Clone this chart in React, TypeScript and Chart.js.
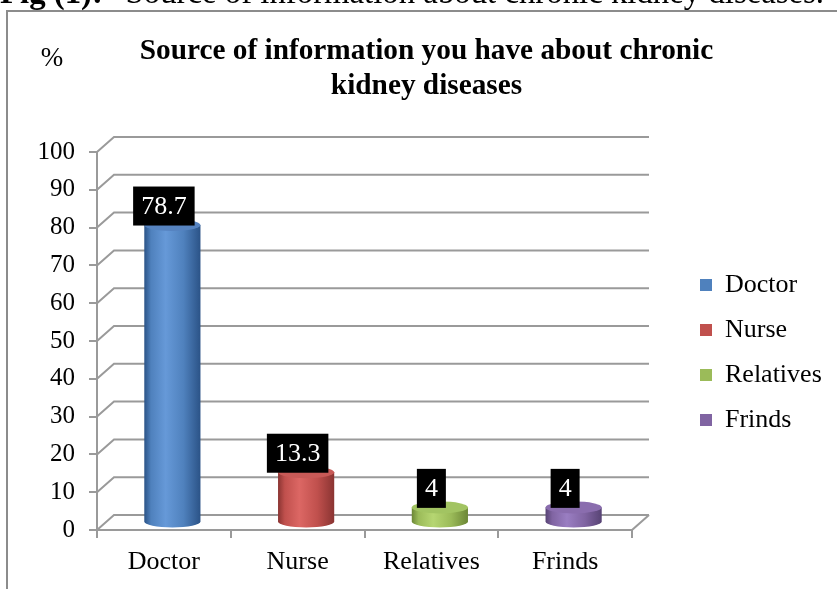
import React, { useEffect, useRef } from 'react';
import { Chart, registerables } from 'chart.js';

Chart.register(...registerables);

const FONT = '"Liberation Serif", "Times New Roman", serif';

// ---- data ----
const categories = ['Doctor', 'Nurse', 'Relatives', 'Frinds'];
const percentValues = [78.7, 13.3, 4, 4];
const valueLabels = ['78.7', '13.3', '4', '4'];
const seriesColors = ['#4F81BD', '#C0504D', '#9BBB59', '#8064A2'];
const edgeColors = ['#2b5387', '#8a3432', '#6c8736', '#574374'];
const lightColors = ['#6699d8', '#dc6764', '#b6d672', '#9a7ec2'];
const topColors = ['#5683c0', '#c85a57', '#a2c462', '#8a6dae'];
const yMin = 0;
const yMax = 100;
const yStep = 10;
const titleLines = ['Source of information you have about chronic', 'kidney diseases'];
const captionBold = 'Fig (1):';
const captionText = 'Source of information about chronic kidney diseases.';
const yUnit = '%';

const GRID = '#9a9a9a';
const DX = 17;
const DY = 15;

const decor = {
  id: 'decor',
  beforeDraw(chart: any) {
    const { ctx } = chart;
    ctx.save();
    ctx.strokeStyle = '#8c8c8c';
    ctx.lineWidth = 2;
    ctx.strokeRect(7, 11, 900, 700);
    ctx.fillStyle = '#000';
    ctx.textAlign = 'left';
    ctx.textBaseline = 'alphabetic';
    ctx.font = `bold 32.8px ${FONT}`;
    ctx.fillText(captionBold, 0, 3);
    const w = ctx.measureText(captionBold).width;
    ctx.font = `32.8px ${FONT}`;
    const sp = ctx.measureText('   ').width;
    ctx.fillText(captionText, w + sp - 2, 3);
    ctx.font = `27px ${FONT}`;
    ctx.textAlign = 'center';
    ctx.textBaseline = 'middle';
    ctx.fillText(yUnit, 52, 59);
    ctx.restore();
  },
  beforeDatasetsDraw(chart: any) {
    const { ctx, chartArea } = chart;
    const { left, right, bottom } = chartArea;
    const ys = chart.scales.y;
    ctx.save();
    ctx.strokeStyle = GRID;
    ctx.lineWidth = 2;
    ys.ticks.forEach((t: any) => {
      const py = ys.getPixelForValue(t.value);
      ctx.beginPath();
      ctx.moveTo(left, py);
      ctx.lineTo(left + DX, py - DY);
      ctx.lineTo(right + DX, py - DY);
      ctx.stroke();
    });
    ctx.beginPath();
    ctx.moveTo(right, bottom);
    ctx.lineTo(right + DX, bottom - DY);
    ctx.stroke();
    ctx.restore();
  },
  beforeDatasetDraw() {
    return false;
  },
  afterDatasetsDraw(chart: any) {
    const { ctx } = chart;
    const meta = chart.getDatasetMeta(0);
    ctx.save();
    meta.data.forEach((el: any, i: number) => {
      const { x, y, base, width } = el.getProps(['x', 'y', 'base', 'width'], true);
      const cx = x + DX / 2;
      const rx = width / 2;
      const ry = 6;
      const top = y - DY / 2;
      const bot = base - DY / 2;
      const g = ctx.createLinearGradient(cx - rx, 0, cx + rx, 0);
      g.addColorStop(0, edgeColors[i]);
      g.addColorStop(0.12, seriesColors[i]);
      g.addColorStop(0.38, lightColors[i]);
      g.addColorStop(0.7, seriesColors[i]);
      g.addColorStop(1, edgeColors[i]);
      ctx.fillStyle = g;
      ctx.beginPath();
      ctx.moveTo(cx - rx, top);
      ctx.lineTo(cx - rx, bot);
      ctx.ellipse(cx, bot, rx, ry, 0, Math.PI, 0, true);
      ctx.lineTo(cx + rx, top);
      ctx.closePath();
      ctx.fill();
      ctx.fillStyle = topColors[i];
      ctx.beginPath();
      ctx.ellipse(cx, top, rx, ry, 0, 0, Math.PI * 2);
      ctx.fill();
    });
    meta.data.forEach((el: any, i: number) => {
      const { x, y } = el.getProps(['x', 'y'], true);
      ctx.font = `26px ${FONT}`;
      const tw = ctx.measureText(valueLabels[i]).width;
      const bw = tw + 16;
      const bh = 39;
      const bx = x - bw / 2;
      const by = y - 7 - bh;
      ctx.fillStyle = '#000';
      ctx.fillRect(bx, by, bw, bh);
      ctx.fillStyle = '#fff';
      ctx.textAlign = 'center';
      ctx.textBaseline = 'middle';
      ctx.fillText(valueLabels[i], x, by + bh / 2 + 1);
    });
    ctx.restore();
  },
};

export default function App() {
  const ref = useRef<HTMLCanvasElement | null>(null);
  useEffect(() => {
    if (!ref.current) return;
    Chart.defaults.font.family = FONT;
    const chart = new Chart(ref.current, {
      type: 'bar',
      data: {
        labels: categories,
        datasets: [
          {
            label: 'Source',
            data: percentValues,
            backgroundColor: seriesColors,
            barPercentage: 0.42,
            categoryPercentage: 1,
          },
        ],
      },
      options: {
        responsive: false,
        animation: false,
        events: [],
        layout: { padding: { left: 24, right: 8, top: 0, bottom: 0 } },
        scales: {
          x: {
            type: 'category',
            offset: true,
            grid: {
              display: true,
              drawOnChartArea: false,
              drawTicks: true,
              tickLength: 8,
              color: GRID,
              lineWidth: 2,
              offset: true,
            },
            border: { display: true, color: GRID, width: 2 },
            ticks: {
              color: '#000',
              font: { family: FONT, size: 26, lineHeight: 1.2 },
              padding: 9,
              maxRotation: 0,
              autoSkip: false,
            },
            afterFit: (s: any) => {
              s.height = 59;
            },
          },
          y: {
            min: yMin,
            max: yMax,
            grid: {
              display: true,
              drawOnChartArea: false,
              drawTicks: true,
              tickLength: 8,
              color: GRID,
              lineWidth: 2,
            },
            border: { display: true, color: GRID, width: 2 },
            ticks: {
              stepSize: yStep,
              color: '#000',
              font: { family: FONT, size: 25 },
              padding: 14,
            },
            afterFit: (s: any) => {
              s.width = 73;
            },
          },
          y2: {
            position: 'right',
            display: true,
            grid: { display: false },
            border: { display: false },
            ticks: { display: false },
            afterFit: (s: any) => {
              s.width = 49;
            },
          },
        },
        plugins: {
          tooltip: { enabled: false },
          title: {
            display: true,
            text: titleLines,
            color: '#000',
            font: { family: FONT, size: 29.3, weight: 'bold', lineHeight: 1.2 },
            padding: { top: 34, bottom: 47.7 },
          },
          legend: {
            display: true,
            position: 'right',
            align: 'center',
            fullSize: false,
            maxWidth: 148,
            title: { display: true, text: ' ', padding: 0, font: { size: 23, lineHeight: 1 } },
            labels: {
              boxWidth: 12,
              boxHeight: 12,
              padding: 19,
              color: '#000',
              font: { family: FONT, size: 26 },
              generateLabels: () =>
                categories.map((c, i) => ({
                  text: c,
                  fillStyle: seriesColors[i],
                  strokeStyle: seriesColors[i],
                  lineWidth: 0,
                  hidden: false,
                  index: i,
                  datasetIndex: 0,
                  fontColor: '#000',
                })),
            },
          },
        },
      } as any,
      plugins: [decor],
    });
    return () => chart.destroy();
  }, []);
  return (
    <div style={{ position: 'fixed', left: 0, top: 0, width: 837, height: 589, overflow: 'hidden', background: '#fff' }}>
      <canvas ref={ref} width={837} height={589} style={{ display: 'block' }} />
    </div>
  );
}
